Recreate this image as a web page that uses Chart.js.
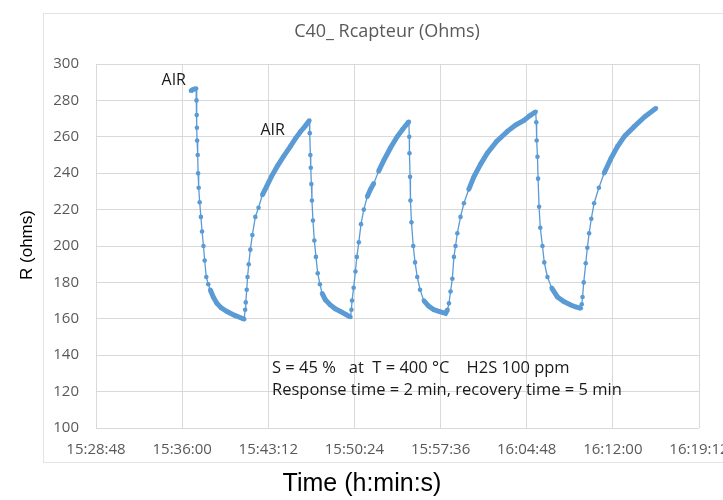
<!DOCTYPE html>
<html>
<head>
<meta charset="utf-8">
<script src="https://cdn.jsdelivr.net/npm/chart.js@4.4.1/dist/chart.umd.min.js"></script>
<style>
	html, body { margin: 0; padding: 0; background: #fff; }
	#wrap { width: 723px; height: 500px; position: relative; }
</style>
</head>
<body>
<div id="wrap"><canvas id="sensorChart" width="723" height="500"></canvas></div>
<script>
// Axis origin (clock time) and tick step, in seconds
const startClock = "15:28:48";
const tickStepSec = 432;
const axisSpanSec = 3024;
const yTicks = [100, 120, 140, 160, 180, 200, 220, 240, 260, 280, 300];

// Elapsed seconds since 15:28:48
const elapsedSec = [
	476, 487, 502, 504, 505, 506, 507, 510, 512, 515, 520, 526, 532, 539, 545, 553, 563, 573, 588, 606, 628, 657, 693, 732, 743,
	748, 751, 756, 760, 766, 774, 784, 799, 815, 834, 857, 879, 908, 939, 974, 1000, 1025, 1050, 1070,
	1072, 1075, 1077, 1080, 1083, 1088, 1095, 1103, 1112, 1123, 1134, 1150, 1175, 1200, 1226, 1251, 1276,
	1281, 1284, 1292, 1301, 1308, 1318, 1329, 1343, 1360, 1376, 1393, 1417, 1443, 1477, 1510, 1537, 1569,
	1571, 1572, 1575, 1577, 1582, 1591, 1600, 1611, 1625, 1644, 1668, 1694, 1723, 1753,
	1763, 1770, 1778, 1787, 1795, 1803, 1812, 1828, 1845, 1869, 1895, 1929, 1962, 2009, 2063, 2105, 2146, 2175, 2205,
	2208, 2210, 2214, 2217, 2222, 2228, 2239, 2248, 2264, 2285, 2314, 2346, 2381, 2406, 2431,
	2436, 2440, 2446, 2456, 2464, 2473, 2484, 2498, 2522, 2548, 2582, 2615, 2652, 2699, 2752, 2808,
];

// Sensor resistance (ohms)
const resistance = [
	285.3, 286, 286.5, 280, 272, 265, 258, 250, 240, 232, 224, 216, 208, 200, 192, 183, 179, 176, 172, 168.5, 166, 164, 162, 160.3, 159.8,
	165, 169, 176, 183, 190, 198, 206, 216, 221, 228, 233, 238, 243.6, 249, 254.6, 259, 262.8, 266, 268.9,
	262, 250, 243, 234, 225, 214, 203, 194, 185, 179, 174, 170.5, 167.6, 165.5, 164, 162.5, 161,
	165, 170, 177, 186, 194, 202, 212, 220, 227, 231, 234.4, 241, 247, 254, 260, 264, 268.3,
	260, 251, 238, 225, 213, 200, 191, 183, 176, 170, 167, 165, 164, 163,
	165, 168.5, 175, 182, 194, 200, 207, 216, 223.5, 231, 238, 245, 251, 257.5, 263, 266.5, 269, 271.5, 273.8,
	268, 258, 249, 237, 221.6, 210, 200, 191, 183, 177, 172, 169.5, 167.6, 166.5, 165.8,
	168, 172, 180, 190.5, 199, 207, 215, 223.5, 232, 240, 248, 254.6, 260.5, 265.6, 271, 275.7,
];

const chartTitle = "C40_ Rcapteur (Ohms)";
const yTitle = "R (ohms)";
const xTitle = "Time (h:min:s)";
const noteLines = [
	"S = 45 %   at  T = 400 °C    H2S 100 ppm",
	"Response time = 2 min, recovery time = 5 min",
];
const airLabels = [
	{ text: "AIR", t: 390, r: 291 },
	{ text: "AIR", t: 886, r: 263.5 },
];

function clockToSec(str) {
	const [h, m, s] = str.split(":").map(Number);
	return h * 3600 + m * 60 + s;
}

function secToClock(sec) {
	const h = Math.floor(sec / 3600);
	const m = Math.floor((sec % 3600) / 60);
	const s = Math.round(sec % 60);
	const pad = (n) => String(n).padStart(2, "0");
	return `${h}:${pad(m)}:${pad(s)}`;
}

const t0 = clockToSec(startClock);
const points = elapsedSec.map((t, i) => ({ x: t, y: resistance[i] }));

const BLUE = "#5b9bd5";
const GRID = "#d9d9d9";
const TICK_FONT = { family: "'Open Sans', sans-serif", size: 15 };

// Cadre + textes
const decorPlugin = {
	id: "decor",
	beforeDraw(chart) {
		const { ctx } = chart;
		ctx.save();
		ctx.fillStyle = "#ffffff";
		ctx.fillRect(0, 0, chart.width, chart.height);
		ctx.strokeStyle = "#e3e3e3";
		ctx.lineWidth = 1;
		ctx.strokeRect(43.5, 13.5, 700, 449);
		ctx.restore();
	},
	afterDraw(chart) {
		const { ctx, scales } = chart;
		ctx.save();
		ctx.textBaseline = "middle";

		ctx.fillStyle = "#595959";
		ctx.font = "18px 'Open Sans', sans-serif";
		ctx.textAlign = "center";
		ctx.fillText(chartTitle, 387, 32);

		ctx.fillStyle = "#000";
		ctx.font = "25px 'Liberation Sans', Arial, sans-serif";
		ctx.fillText(xTitle, 362, 484);

		ctx.save();
		ctx.translate(27, 245);
		ctx.rotate(-Math.PI / 2);
		ctx.font = "17px 'Liberation Sans', Arial, sans-serif";
		ctx.fillText(yTitle, 0, 0);
		ctx.restore();

		ctx.fillStyle = "#1a1a1a";
		ctx.font = "16.5px 'Open Sans', sans-serif";
		ctx.textAlign = "left";
		noteLines.forEach((line, i) => ctx.fillText(line, 272, 368 + i * 22));

		ctx.textAlign = "center";
		ctx.font = "16px 'Open Sans', sans-serif";
		airLabels.forEach(({ text, t, r }) => {
			ctx.fillText(text, scales.x.getPixelForValue(t), scales.y.getPixelForValue(r));
		});
		ctx.restore();
	},
};

new Chart(document.getElementById("sensorChart"), {
	type: "line",
	data: {
		datasets: [
			{
				data: points,
				borderColor: BLUE,
				backgroundColor: BLUE,
				borderWidth: 1.3,
				pointRadius: 2.3,
				pointBorderWidth: 0,
				pointBackgroundColor: BLUE,
				tension: 0,
				segment: {
					borderWidth: (c) => {
						const dx = Math.abs(c.p1.x - c.p0.x);
						const dy = Math.abs(c.p1.y - c.p0.y);
						return dy > 2.5 * dx ? 1.3 : 5;
					},
				},
			},
		],
	},
	options: {
		responsive: false,
		animation: false,
		layout: { padding: { top: 64, right: 24, bottom: 0, left: 0 } },
		plugins: {
			legend: { display: false },
			title: { display: false },
			tooltip: { enabled: false },
		},
		scales: {
			x: {
				type: "linear",
				min: 0,
				max: axisSpanSec,
				border: { display: false },
				grid: { color: GRID, drawTicks: false },
				ticks: {
					stepSize: tickStepSec,
					padding: 13,
					maxRotation: 0,
					autoSkip: false,
					color: "#595959",
					font: TICK_FONT,
					callback: (v) => secToClock(t0 + v),
				},
				afterFit: (scale) => {
					scale.height = 72;
					scale.paddingLeft = 0;
					scale.paddingRight = 0;
				},
			},
			y: {
				min: yTicks[0],
				max: yTicks[yTicks.length - 1],
				border: { display: false },
				grid: { color: GRID, drawTicks: false },
				afterBuildTicks: (scale) => {
					scale.ticks = yTicks.map((v) => ({ value: v }));
				},
				ticks: {
					padding: 17,
					color: "#595959",
					font: TICK_FONT,
				},
				afterFit: (scale) => {
					scale.width = 96;
				},
			},
		},
	},
	plugins: [decorPlugin],
});
</script>
</body>
</html>
